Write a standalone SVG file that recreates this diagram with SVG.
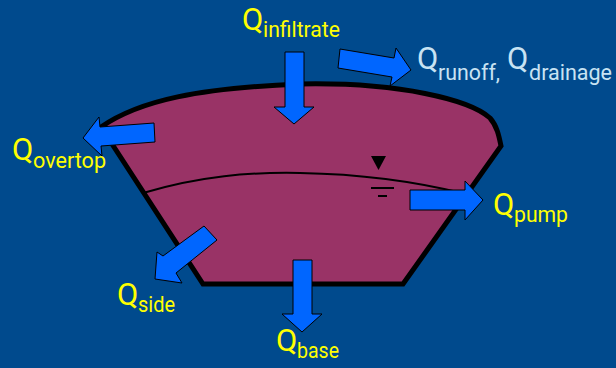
<svg xmlns="http://www.w3.org/2000/svg" width="616" height="368" viewBox="0 0 616 368">
  <style>
    .q { font-family: Roboto, "Liberation Sans", sans-serif; font-size: 31px; fill: #FFFF00; }
    .s { font-family: Roboto, "Liberation Sans", sans-serif; font-size: 22px; fill: #FFFF00; }
    .lb { fill: #C8E3F3; }
    .arrow { fill: #0066FF; stroke: #000000; stroke-width: 1; stroke-linejoin: miter; }
  </style>
  <rect x="0" y="0" width="616" height="368" fill="#004A8D"/>

  <g id="pond">
    <path d="M101,127 C140,100 200,88 300,84 C400,82 470,100 490,118 C497,126 499,136 501,146 L403,284 L203,284 Z" fill="#993366" stroke="#000000" stroke-width="5" stroke-linejoin="miter"/>
    <path d="M143,193 C200,176 250,172 300,173 C360,174 410,180 466,194" fill="none" stroke="#000000" stroke-width="2"/>
    <polygon points="371,156 386,156 378.5,170" fill="#000000"/>
    <line x1="371" y1="188" x2="394" y2="188" stroke="#000000" stroke-width="2"/>
    <line x1="378" y1="196" x2="387" y2="196" stroke="#000000" stroke-width="2"/>
  </g>

  <g id="connectors">
    <polygon id="a-infiltrate" class="arrow" points="285,52 304,52 304,107 314,107 294,124 274,107 285,107"/>
    <polygon id="a-runoff" class="arrow" points="340,49 394,58 396,48 411,70 390,86 392,77 338,68"/>
    <polygon id="a-overtop" class="arrow" points="154,123 100,127 99,117 83,138 102,156 101,146 155,142"/>
    <polygon id="a-pump" class="arrow" points="410,190 465,190 465,181 483,200 465,220 465,210 410,210"/>
    <polygon id="a-side" class="arrow" points="204,226 163,256 157,252 155,279 182,283 176,273 217,240"/>
    <polygon id="a-base" class="arrow" points="293,260 312,260 312,314 322,314 302,332 282,314 293,314"/>
  </g>

  <g id="label-infiltrate">
    <text class="q" x="242" y="30">Q</text>
    <text class="s" x="263" y="37" textLength="77" lengthAdjust="spacingAndGlyphs">infiltrate</text>
  </g>
  <g id="label-runoff">
    <text class="q lb" x="417" y="69">Q</text>
    <text class="s lb" x="438" y="80" textLength="62" lengthAdjust="spacingAndGlyphs">runoff,</text>
    <text class="q lb" x="507" y="69">Q</text>
    <text class="s lb" x="529" y="80" textLength="83" lengthAdjust="spacingAndGlyphs">drainage</text>
  </g>
  <g id="label-overtop">
    <text class="q" x="12" y="160">Q</text>
    <text class="s" x="33" y="168" textLength="73" lengthAdjust="spacingAndGlyphs">overtop</text>
  </g>
  <g id="label-pump">
    <text class="q" x="493" y="215">Q</text>
    <text class="s" x="514" y="222" textLength="54" lengthAdjust="spacingAndGlyphs">pump</text>
  </g>
  <g id="label-side">
    <text class="q" x="117" y="305">Q</text>
    <text class="s" x="138" y="312" textLength="37" lengthAdjust="spacingAndGlyphs">side</text>
  </g>
  <g id="label-base">
    <text class="q" x="276" y="351">Q</text>
    <text class="s" x="297" y="358" textLength="42" lengthAdjust="spacingAndGlyphs">base</text>
  </g>
</svg>
